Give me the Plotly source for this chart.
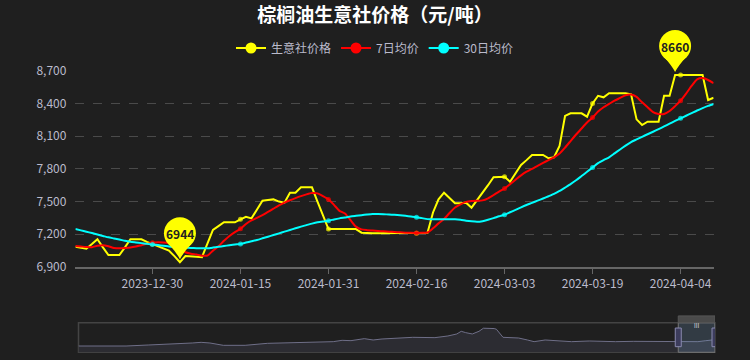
import pandas as pd
import plotly.graph_objects as go

# ---------------- data ----------------
start_date = "2023-12-16"
n_days = 117
dates = pd.date_range(start_date, periods=n_days, freq="D")

price = [7086, 7075, 7068, 7110, 7154, 7080, 7010, 7010, 7010, 7080,
         7154, 7154, 7154, 7130, 7110, 7090, 7070, 7050, 7000, 6944,
         7000, 7000, 6995, 6990, 7110, 7240, 7275, 7310, 7310, 7310,
         7337, 7361, 7346, 7430, 7508, 7515, 7520, 7500, 7490, 7581,
         7581, 7631, 7631, 7631, 7500, 7370, 7248, 7248, 7248, 7248,
         7248, 7248, 7215, 7210, 7210, 7210, 7210, 7210, 7210, 7210,
         7210, 7210, 7210, 7210, 7215, 7400, 7520, 7581, 7530, 7484,
         7484, 7490, 7444, 7510, 7580, 7650, 7723, 7728, 7728, 7682,
         7760, 7835, 7880, 7927, 7927, 7927, 7897, 7906, 8010, 8285,
         8309, 8309, 8309, 8278, 8400, 8470, 8456, 8493, 8493, 8493,
         8493, 8484, 8254, 8202, 8232, 8232, 8232, 8471, 8471, 8660,
         8660, 8660, 8660, 8660, 8660, 8431, 8452]

ma7 = [7093, 7088, 7083, 7082, 7095, 7100, 7090, 7075, 7071, 7074,
       7079, 7088, 7100, 7112, 7122, 7127, 7125, 7120, 7105, 7070,
       7035, 7022, 7015, 7004, 7005, 7050, 7090, 7140, 7185, 7220,
       7250, 7295, 7328, 7350, 7375, 7405, 7435, 7465, 7490, 7512,
       7532, 7550, 7566, 7578, 7575, 7550, 7520, 7470, 7415, 7390,
       7330, 7270, 7245, 7238, 7234, 7230, 7227, 7224, 7221, 7218,
       7215, 7213, 7212, 7213, 7216, 7255, 7300, 7340, 7395, 7445,
       7475, 7497, 7505, 7508, 7511, 7530, 7560, 7592, 7620, 7660,
       7700, 7740, 7774, 7800, 7828, 7855, 7880, 7906, 7940, 7995,
       8055, 8115, 8170, 8225, 8270, 8325, 8365, 8395, 8425, 8450,
       8475, 8482, 8460, 8410, 8365, 8320, 8303, 8303, 8330, 8375,
       8425, 8490, 8560, 8620, 8632, 8615, 8585]

ma30 = [7248, 7236, 7224, 7211, 7198, 7185, 7172, 7162, 7152, 7140,
        7131, 7125, 7119, 7112, 7107, 7101, 7095, 7088, 7083, 7079,
        7077, 7075, 7073, 7071, 7072, 7078, 7085, 7092, 7100, 7107,
        7112, 7124, 7136, 7148, 7163, 7178, 7193, 7208, 7224, 7239,
        7255, 7270, 7284, 7298, 7310, 7318, 7325, 7336, 7346, 7354,
        7363, 7369, 7375, 7381, 7386, 7386, 7384, 7381, 7378, 7374,
        7369, 7363, 7357, 7348, 7339, 7337, 7337, 7337, 7337, 7337,
        7333, 7325, 7319, 7315, 7320, 7333, 7348, 7365, 7380, 7402,
        7424, 7447, 7469, 7488, 7508, 7528, 7549, 7571, 7597, 7628,
        7660, 7695, 7734, 7773, 7812, 7852, 7880, 7906, 7942, 7978,
        8013, 8046, 8070, 8094, 8117, 8140, 8164, 8189, 8214, 8239,
        8263, 8287, 8311, 8335, 8357, 8377, 8395]

tick_labels = ["2023-12-30", "2024-01-15", "2024-01-31", "2024-02-16",
               "2024-03-03", "2024-03-19", "2024-04-04"]
y_ticks = [6900, 7200, 7500, 7800, 8100, 8400, 8700]

series_names = ["生意社价格", "7日均价", "30日均价"]
series_colors = ["#ffff00", "#ff0000", "#00ffff"]

# long-range preview shown in the zoom slider
preview_dates = ["2018-10-10", "2018-10-14", "2019-03-09", "2019-05-18", "2019-07-26",
                 "2019-10-04", "2019-11-01", "2019-11-29", "2020-01-10", "2020-03-19",
                 "2020-05-28", "2020-08-05", "2020-10-14", "2020-12-22", "2021-01-19",
                 "2021-02-16", "2021-03-30", "2021-04-27", "2021-05-25", "2021-08-30",
                 "2021-11-08", "2021-12-19", "2022-01-16", "2022-01-30", "2022-02-13",
                 "2022-03-06", "2022-03-27", "2022-04-10", "2022-05-14", "2022-05-21",
                 "2022-06-11", "2022-07-30", "2022-08-27", "2022-09-17", "2022-10-22",
                 "2022-12-16", "2023-01-13", "2023-03-10", "2023-06-01", "2023-07-27",
                 "2023-09-21", "2023-12-16", "2024-01-05", "2024-02-16", "2024-03-10",
                 "2024-04-04", "2024-04-10"]
preview_vals = [4150, 4150, 4150, 4810, 5250,
                6130, 6570, 6130, 4600, 4600,
                5910, 6350, 6570, 7010, 7890,
                7670, 8990, 8110, 8770, 9870,
                9650, 10760, 12070, 13830, 12950,
                12070, 13830, 15860, 15640, 15200,
                9870, 9430, 8110, 7010, 8110,
                7450, 7010, 7450, 7010, 7230,
                7230, 6990, 6800, 7010, 7600,
                8450, 8330]

# ---------------- geometry (pixels of the 750x360 page) ----------------
W, H = 750, 360
main_x = (75.4 / W, 713.6 / W)
main_y = ((H - 267) / H, (H - 70.7) / H)
prev_x = (78.5 / W, 715.0 / W)
prev_y = ((H - 352.3) / H, (H - 322.7) / H)

FONT = "Noto Sans CJK SC, Noto Sans, sans-serif"
LABEL_COLOR = "#bbbbcc"
BG = "#1f1f1f"

tick_set = set(pd.to_datetime(tick_labels))
marker_sizes = [5 if d in tick_set else 0 for d in dates]

fig = go.Figure()

for name, vals, col in zip(series_names, [price, ma7, ma30], series_colors):
    fig.add_trace(go.Scatter(
        x=dates, y=vals, mode="lines+markers", name=name,
        line=dict(color=col, width=2, shape="linear" if name == series_names[0] else "spline",
                  smoothing=0.6),
        marker=dict(color=col, size=marker_sizes, line=dict(width=0)),
        showlegend=False, hoverinfo="x+y+name",
        xaxis="x", yaxis="y",
    ))

# legend-only entries
for name, col in zip(series_names, series_colors):
    fig.add_trace(go.Scatter(
        x=[None], y=[None], mode="lines+markers", name=name,
        line=dict(color=col, width=2),
        marker=dict(color=col, size=11, line=dict(width=0)),
        showlegend=True, xaxis="x", yaxis="y",
    ))

# preview area in slider
fig.add_trace(go.Scatter(
    x=pd.to_datetime(preview_dates), y=preview_vals, mode="lines",
    fill="tozeroy", fillcolor="#2c2c32",
    line=dict(color="#6f6f88", width=1),
    showlegend=False, hoverinfo="skip", xaxis="x2", yaxis="y2",
))

shapes = []
annotations = []

# pin markers for max and min of price
y_lo, y_hi = y_ticks[0], y_ticks[-1]
imax = max(range(n_days), key=lambda i: price[i])
imin = min(range(n_days), key=lambda i: price[i])
for idx in (imax, imin):
    xd, yv = dates[idx], price[idx]
    yfrac = (yv - y_lo) / (y_hi - y_lo)
    common = dict(xref="x", yref="y domain", xsizemode="pixel", ysizemode="pixel",
                  xanchor=xd, yanchor=yfrac, fillcolor="#ffff00",
                  line=dict(width=0), layer="above")
    shapes.append(dict(type="path", path="M 0 3 Q 3 9 11 18 L -11 18 Q -3 9 0 3 Z", **common))
    shapes.append(dict(type="circle", x0=-16, x1=16, y0=13, y1=45, **common))
    annotations.append(dict(x=xd, y=yv, xref="x", yref="y", text=f"<b>{yv:.0f}</b>",
                            showarrow=False, yshift=29,
                            font=dict(size=12, color="#222222", family=FONT)))

# slider decorations
shapes.append(dict(type="rect", xref="paper", yref="paper",
                   x0=prev_x[0], x1=prev_x[1], y0=prev_y[0], y1=prev_y[1],
                   line=dict(color="#444444", width=1.5), layer="below"))
shapes.append(dict(type="rect", xref="x2", yref="y2 domain",
                   x0=dates[0], x1=dates[-1], y0=0, y1=1,
                   fillcolor="rgba(120,160,200,0.22)", line=dict(color="#777777", width=1)))
shapes.append(dict(type="rect", xref="x2", yref="y2 domain",
                   x0=dates[0], x1=dates[-1], y0=1, y1=1.23,
                   fillcolor="#4a4a4a", line=dict(color="#555555", width=1)))
for xd in (dates[0], dates[-1]):
    shapes.append(dict(type="rect", xref="x2", yref="y2 domain", xsizemode="pixel",
                       xanchor=xd, x0=-3, x1=3, y0=0.19, y1=0.82,
                       fillcolor="#3c3c5c", line=dict(color="#8a8ab0", width=1)))
annotations.append(dict(x=dates[len(dates) // 2], y=1.115, xref="x2", yref="y2 domain",
                        text="III", showarrow=False,
                        font=dict(size=6, color="#dddddd", family=FONT)))

fig.update_layout(
    width=W, height=H,
    margin=dict(l=0, r=0, t=0, b=0, autoexpand=False),
    paper_bgcolor=BG, plot_bgcolor=BG,
    font=dict(family=FONT, color=LABEL_COLOR, size=12),
    title=dict(text="<b>棕榈油生意社价格（元/吨）</b>", x=0.5, xanchor="center",
               y=1 - 15 / H, yanchor="middle",
               font=dict(size=19, color="#ffffff", family=FONT)),
    legend=dict(orientation="h", x=0.5, xanchor="center", y=1 - 48 / H, yanchor="middle",
                font=dict(size=12, color=LABEL_COLOR, family=FONT),
                bgcolor="rgba(0,0,0,0)", itemwidth=30),
    xaxis=dict(domain=list(main_x), anchor="y", type="date", automargin=False,
               range=[dates[0], dates[-1]],
               tickvals=pd.to_datetime(tick_labels), ticktext=tick_labels,
               showgrid=False, zeroline=False,
               showline=True, linecolor="#666666", linewidth=2,
               ticks="outside", ticklen=5, tickcolor="#666666", tickwidth=1,
               tickfont=dict(size=12, color=LABEL_COLOR)),
    yaxis=dict(domain=list(main_y), anchor="x", range=[y_lo, y_hi], automargin=False,
               tickvals=y_ticks, tickformat=",", showgrid=True,
               gridcolor="#4a4a4a", griddash="dash", gridwidth=1,
               zeroline=False, showline=False, ticks="",
               ticklabelstandoff=8,
               tickfont=dict(size=12, color=LABEL_COLOR)),
    xaxis2=dict(domain=list(prev_x), anchor="y2", type="date", automargin=False,
                range=[pd.Timestamp(preview_dates[0]), dates[-1]], visible=False),
    yaxis2=dict(domain=list(prev_y), anchor="x2", range=[0, 19500], visible=False,
                automargin=False),
    shapes=shapes, annotations=annotations,
    hovermode="x",
)

fig.write_html("out.html",
               config={"displayModeBar": False},
               post_script="document.body.style.margin='0';document.body.style.background='#1f1f1f';")
